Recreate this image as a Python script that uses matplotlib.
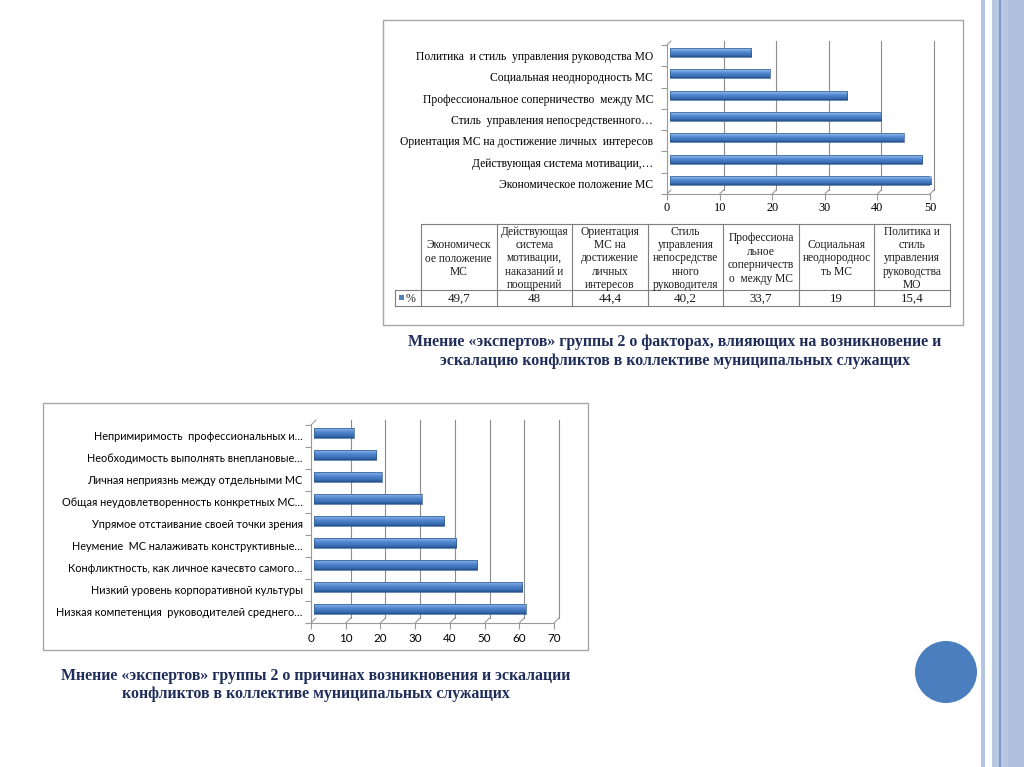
import numpy as np
import matplotlib
matplotlib.use("Agg")
import matplotlib.pyplot as plt
import matplotlib.transforms as mtransforms
from matplotlib.patches import Rectangle, Circle, ConnectionPatch
from matplotlib.colors import LinearSegmentedColormap

# ---------------- data ----------------
top_labels = [
    "Политика  и стиль  управления руководства МО",
    "Социальная неоднородность МС",
    "Профессиональное соперничество  между МС",
    "Стиль  управления непосредственного…",
    "Ориентация МС на достижение личных  интересов",
    "Действующая система мотивации,…",
    "Экономическое положение МС",
]
top_values = [15.4, 19, 33.7, 40.2, 44.4, 48, 49.7]
top_ticks = [0, 10, 20, 30, 40, 50]

table_headers = [
    "Экономическ\nое положение\nМС",
    "Действующая\nсистема\nмотивации,\nнаказаний и\nпоощрений",
    "Ориентация\nМС на\nдостижение\nличных\nинтересов",
    "Стиль\nуправления\nнепосредстве\nнного\nруководителя",
    "Профессиона\nльное\nсоперничеств\nо  между МС",
    "Социальная\nнеоднороднос\nть МС",
    "Политика и\nстиль\nуправления\nруководства\nМО",
]
table_values = [49.7, 48, 44.4, 40.2, 33.7, 19, 15.4]
table_series = "%"

bottom_labels = [
    "Непримиримость  профессиональных и…",
    "Необходимость выполнять внеплановые…",
    "Личная неприязнь между отдельными МС",
    "Общая неудовлетворенность конкретных МС…",
    "Упрямое отстаивание своей точки зрения",
    "Неумение  МС налаживать конструктивные…",
    "Конфликтность, как личное качесвто самого…",
    "Низкий уровень корпоративной культуры",
    "Низкая компетенция  руководителей среднего…",
]
bottom_values = [11.5, 18, 19.5, 31, 37.5, 41, 47, 60, 61]
bottom_ticks = [0, 10, 20, 30, 40, 50, 60, 70]

caption_top = ("Мнение «экспертов» группы 2 о факторах, влияющих на возникновение и\n"
               "эскалацию конфликтов в коллективе муниципальных служащих")
caption_bottom = ("Мнение «экспертов» группы 2 о причинах возникновения и эскалации\n"
                  "конфликтов в коллективе муниципальных служащих")

# ---------------- figure ----------------
W, H = 1024, 767
DPI = 100
fig = plt.figure(figsize=(W / DPI, H / DPI), dpi=DPI)
fig.patch.set_facecolor("white")

bg = fig.add_axes([0, 0, 1, 1], zorder=0)
bg.set_xlim(0, W)
bg.set_ylim(H, 0)
bg.axis("off")


def px_axes(l, t, r, b):
    ax = fig.add_axes([l / W, 1 - b / H, (r - l) / W, (b - t) / H], zorder=2)
    ax.patch.set_alpha(0)
    return ax


SERIF = "Liberation Serif"
SANS = "Lato"
BAR_CMAP = LinearSegmentedColormap.from_list(
    "bar", ["#A9C6EE", "#72A0E0", "#4C82CA", "#3F74BA", "#26518C"])
WALL = "#9A9A9A"
GRID = "#8C8C8C"


def offset(ax, d):
    return ax.transData + mtransforms.ScaledTranslation(
        d / DPI, d / DPI, fig.dpi_scale_trans)


def gradient_bars(ax, values, height, trans):
    for i, v in enumerate(values):
        rect = Rectangle((0, i - height / 2), v, height, facecolor="#4F81BD",
                         edgecolor="none", zorder=3, transform=trans)
        ax.add_patch(rect)
        grad = np.linspace(0, 1, 64).reshape(-1, 1)
        im = ax.imshow(grad, cmap=BAR_CMAP, aspect="auto",
                       extent=(0, v, i + height / 2, i - height / 2),
                       zorder=3.5, interpolation="bilinear", transform=trans)
        im.set_clip_path(rect)
        ax.add_patch(Rectangle((0, i - height / 2), v, height, facecolor="none",
                               edgecolor="#2E5B90", lw=0.5, zorder=4,
                               transform=trans))


def style_chart(ax, labels, values, ticks, xmax, font, fs_y, fs_x, height,
                ypad, xpad, depth, bar_depth):
    n = len(labels)
    ax.set_xlim(0, xmax)
    ax.set_ylim(n - 0.5, -0.5)
    back = offset(ax, depth)
    y_top, y_bot = -0.5, n - 0.5
    for t in ticks:
        if t > 0:
            ax.plot([t, t], [y_top, y_bot], color=GRID, lw=0.8,
                    transform=back, zorder=1, clip_on=False)
        ax.add_artist(ConnectionPatch(xyA=(t, y_bot), coordsA=ax.transData,
                                      xyB=(t, y_bot), coordsB=back,
                                      color=WALL, lw=0.8, zorder=1))
    ax.add_artist(ConnectionPatch(xyA=(0, y_top), coordsA=ax.transData,
                                  xyB=(0, y_top), coordsB=back,
                                  color=WALL, lw=0.8, zorder=1))
    gradient_bars(ax, values, height, offset(ax, bar_depth))
    ax.set_xlim(0, xmax)
    ax.set_ylim(n - 0.5, -0.5)
    ax.set_xticks(ticks)
    ax.set_xticklabels([str(t) for t in ticks], fontfamily=font, fontsize=fs_x)
    ax.set_yticks(range(n))
    ax.set_yticklabels(labels, fontfamily=font, fontsize=fs_y)
    ax.set_yticks(np.arange(-0.5, n), minor=True)
    for s in ["top", "right"]:
        ax.spines[s].set_visible(False)
    for s in ["left", "bottom"]:
        ax.spines[s].set_color(WALL)
        ax.spines[s].set_linewidth(0.8)
    ax.tick_params(axis="y", which="major", length=0, pad=ypad)
    ax.tick_params(axis="y", which="minor", length=4, color=WALL, width=0.8)
    ax.tick_params(axis="x", length=4, color=WALL, width=0.8, pad=xpad)


# ---------------- top chart ----------------
bg.add_patch(Rectangle((383, 20), 580, 305, facecolor="white",
                       edgecolor="#A6A6A6", lw=1.0))
ax1 = px_axes(667, 45, 930, 194)
style_chart(ax1, top_labels, top_values, top_ticks, 50, SERIF, 8.4, 8.8, 0.42,
            10, 2, 4, 3)

# table
tl, tr = 421, 950
t_top, t_mid, t_bot = 224, 290, 306
ncol = len(table_headers)
cw = (tr - tl) / ncol
lc = "#7F7F7F"
bg.plot([tl, tr], [t_top, t_top], color=lc, lw=0.8)
bg.plot([395, tr], [t_mid, t_mid], color=lc, lw=0.8)
bg.plot([395, tr], [t_bot, t_bot], color=lc, lw=0.8)
bg.plot([395, 395], [t_mid, t_bot], color=lc, lw=0.8)
for j in range(ncol + 1):
    x = tl + j * cw
    bg.plot([x, x], [t_top, t_bot], color=lc, lw=0.8)
for j, (hd, v) in enumerate(zip(table_headers, table_values)):
    cx = tl + (j + 0.5) * cw
    bg.text(cx, (t_top + t_mid) / 2 + 1.5, hd, ha="center", va="center",
            fontfamily=SERIF, fontsize=8.3, linespacing=1.15, color="#1A1A1A")
    s = ("%g" % v).replace(".", ",")
    bg.text(cx, (t_mid + t_bot) / 2 + 0.5, s, ha="center", va="center",
            fontfamily=SERIF, fontsize=9.4, color="#1A1A1A")
bg.add_patch(Rectangle((399, 295), 5, 5, facecolor="#4F81BD", edgecolor="none"))
bg.text(406, (t_mid + t_bot) / 2 + 0.5, table_series, ha="left", va="center",
        fontfamily=SERIF, fontsize=8.6, color="#1A1A1A")

bg.text(675, 351.5, caption_top, ha="center", va="center", fontfamily=SERIF,
        fontweight="bold", fontsize=11.4, color="#1F2D5A", linespacing=1.2)

# ---------------- bottom chart ----------------
bg.add_patch(Rectangle((43, 403), 545, 247, facecolor="white",
                       edgecolor="#A6A6A6", lw=1.0))
ax2 = px_axes(311, 425, 554, 623)
style_chart(ax2, bottom_labels, bottom_values, bottom_ticks, 70, SANS, 7.85, 8.4,
            0.46, 6, 3, 5, 3)

bg.text(316, 685, caption_bottom, ha="center", va="center", fontfamily=SERIF,
        fontweight="bold", fontsize=11.4, color="#1F2D5A", linespacing=1.2)

# ---------------- slide decoration ----------------
bg.add_patch(Rectangle((981, 0), 4, H, facecolor="#B4C4E0", edgecolor="none"))
bg.add_patch(Rectangle((992, 0), 32, H, facecolor="#B8C7E2", edgecolor="none"))
bg.add_patch(Rectangle((1008, 0), 16, H, facecolor="#AFC0DE", edgecolor="none"))
bg.add_patch(Rectangle((999, 0), 1.5, H, facecolor="#7E97C6", edgecolor="none"))
bg.add_patch(Circle((946, 672), 31, facecolor="#4A7EBE", edgecolor="none"))

fig.savefig("out.png", dpi=DPI)
